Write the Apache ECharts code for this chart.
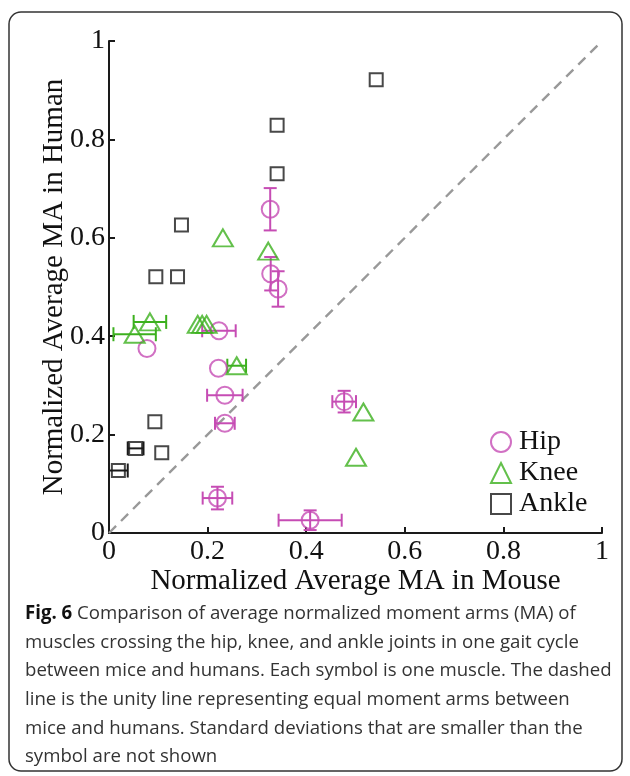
<!DOCTYPE html>
<html>
<head>
<meta charset="utf-8">
<script src="https://cdn.jsdelivr.net/npm/echarts@6/dist/echarts.min.js"></script>
<style>html,body{margin:0;padding:0;background:#fff;}#c{width:630px;height:776px;}</style>
</head>
<body>
<div id="c"></div>
<script>
// ---- data ----
const hipX    = [0.327, 0.328, 0.343, 0.223, 0.077, 0.222, 0.235, 0.235, 0.477, 0.220, 0.408];
const hipY    = [0.658, 0.527, 0.496, 0.411, 0.375, 0.335, 0.280, 0.223, 0.267, 0.071, 0.026];
const hipXErr = [0, 0, 0, 0.034, 0, 0, 0.036, 0.020, 0.024, 0.030, 0.064];
const hipYErr = [0.043, 0.034, 0.036, 0, 0, 0, 0, 0, 0.022, 0.023, 0.020];

const kneeX    = [0.231, 0.323, 0.052, 0.083, 0.180, 0.189, 0.198, 0.259, 0.516, 0.501];
const kneeY    = [0.600, 0.573, 0.404, 0.429, 0.424, 0.424, 0.424, 0.340, 0.246, 0.154];
const kneeXErr = [0, 0, 0.043, 0.033, 0, 0, 0, 0.019, 0, 0];
const kneeYErr = [0, 0, 0, 0, 0, 0, 0, 0, 0, 0];

const ankleX    = [0.542, 0.341, 0.341, 0.147, 0.095, 0.139, 0.093, 0.054, 0.107, 0.019];
const ankleY    = [0.921, 0.829, 0.730, 0.626, 0.521, 0.521, 0.226, 0.172, 0.163, 0.127];
const ankleXErr = [0, 0, 0, 0, 0, 0, 0, 0.016, 0, 0.019];
const ankleYErr = [0, 0, 0, 0, 0, 0, 0, 0, 0, 0];

const unityLine = [[0, 0], [1, 1]];
const seriesNames = ['Hip', 'Knee', 'Ankle'];

const captionLines = [
  '{b|Fig. 6} Comparison of average normalized moment arms (MA) of',
  'muscles crossing the hip, knee, and ankle joints in one gait cycle',
  'between mice and humans. Each symbol is one muscle. The dashed',
  'line is the unity line representing equal moment arms between',
  'mice and humans. Standard deviations that are smaller than the',
  'symbol are not shown'
];

// ---- styles ----
const HIP = '#c64cb4', KNEE = '#3cb01e', ANKLE = '#1a1a1a';
const SERIF = '"Liberation Serif", "DejaVu Serif", serif';
const SANS = '"Open Sans", "Noto Sans", sans-serif';

function rows(xs, ys, xe, ye) { return xs.map((x, i) => [x, ys[i], xe[i], ye[i]]); }

function errRender(color, cap) {
  return function (params, api) {
    const x = api.value(0), y = api.value(1), xe = api.value(2), ye = api.value(3);
    const st = { stroke: color, lineWidth: 2 };
    const ch = [];
    if (xe > 0) {
      const a = api.coord([x - xe, y]), b = api.coord([x + xe, y]);
      ch.push({ type: 'line', shape: { x1: a[0], y1: a[1], x2: b[0], y2: b[1] }, style: st });
      ch.push({ type: 'line', shape: { x1: a[0], y1: a[1] - cap, x2: a[0], y2: a[1] + cap }, style: st });
      ch.push({ type: 'line', shape: { x1: b[0], y1: b[1] - cap, x2: b[0], y2: b[1] + cap }, style: st });
    }
    if (ye > 0) {
      const a = api.coord([x, y - ye]), b = api.coord([x, y + ye]);
      ch.push({ type: 'line', shape: { x1: a[0], y1: a[1], x2: b[0], y2: b[1] }, style: st });
      ch.push({ type: 'line', shape: { x1: a[0] - cap, y1: a[1], x2: a[0] + cap, y2: a[1] }, style: st });
      ch.push({ type: 'line', shape: { x1: b[0] - cap, y1: b[1], x2: b[0] + cap, y2: b[1] }, style: st });
    }
    return { type: 'group', children: ch };
  };
}

const axisCommon = {
  type: 'value', min: 0, max: 1, interval: 0.2,
  axisLine: { show: true, lineStyle: { color: '#1a1a1a', width: 2 } },
  axisTick: { show: true, inside: true, length: 6, lineStyle: { color: '#1a1a1a', width: 2 } },
  splitLine: { show: false },
  nameLocation: 'middle',
  nameMoveOverlap: false,
  nameTextStyle: { fontFamily: SERIF, fontSize: 29, color: '#111' },
  axisLabel: { fontFamily: SERIF, fontSize: 28, color: '#111' }
};

const chart = echarts.init(document.getElementById('c'), null, { renderer: 'canvas' });

const graphics = [
  { type: 'rect', shape: { x: 9, y: 12, width: 613, height: 759, r: 12 },
    style: { fill: 'none', stroke: '#333', lineWidth: 1.5 }, z: 0 }
];
captionLines.forEach((t, i) => {
  graphics.push({
    type: 'text', x: 25, y: 604 + i * 28.7, scaleX: 0.98, z: 10,
    style: {
      text: t, fontFamily: SANS, fontSize: 19, fill: '#333',
      rich: { b: { fontFamily: SANS, fontSize: 19, fontWeight: 'bold', fill: '#111' } }
    }
  });
});

chart.setOption({
  animation: false,
  backgroundColor: '#fff',
  grid: { left: 109, right: 28, top: 41, bottom: 243, containLabel: false },
  xAxis: Object.assign({}, axisCommon, {
    name: 'Normalized Average MA in Mouse', nameGap: 34,
    axisLabel: Object.assign({}, axisCommon.axisLabel, { margin: 5 })
  }),
  yAxis: Object.assign({}, axisCommon, {
    name: 'Normalized Average MA in Human', nameGap: 40,
    axisLabel: Object.assign({}, axisCommon.axisLabel, { margin: 4 })
  }),
  legend: {
    data: seriesNames, orient: 'vertical', left: 485, top: 423,
    itemWidth: 20, itemHeight: 20, itemGap: 3,
    textStyle: { fontFamily: SERIF, fontSize: 28, color: '#111', padding: [0, 0, 0, 3] }
  },
  graphic: graphics,
  series: [
    { type: 'line', data: unityLine, symbol: 'none', silent: true,
      lineStyle: { color: '#999', width: 2.4, type: [10, 7] }, z: 1 },
    { type: 'custom', renderItem: errRender(HIP, 6.5), data: rows(hipX, hipY, hipXErr, hipYErr),
      encode: { x: 0, y: 1 }, clip: false, z: 2, silent: true },
    { type: 'custom', renderItem: errRender(KNEE, 7), data: rows(kneeX, kneeY, kneeXErr, kneeYErr),
      encode: { x: 0, y: 1 }, clip: false, z: 2, silent: true },
    { type: 'custom', renderItem: errRender(ANKLE, 7), data: rows(ankleX, ankleY, ankleXErr, ankleYErr),
      encode: { x: 0, y: 1 }, clip: false, z: 2, silent: true },
    { name: 'Hip', type: 'scatter', symbol: 'circle', symbolSize: 17,
      data: hipX.map((x, i) => [x, hipY[i]]),
      itemStyle: { color: 'rgba(255,255,255,0)', borderColor: HIP, borderWidth: 2 }, z: 3 },
    { name: 'Knee', type: 'scatter', symbol: 'triangle', symbolSize: [20, 17],
      data: kneeX.map((x, i) => [x, kneeY[i]]),
      itemStyle: { color: 'rgba(255,255,255,0)', borderColor: KNEE, borderWidth: 2 }, z: 3 },
    { name: 'Ankle', type: 'scatter', symbol: 'rect', symbolSize: 13,
      data: ankleX.map((x, i) => [x, ankleY[i]]),
      itemStyle: { color: 'rgba(255,255,255,0)', borderColor: ANKLE, borderWidth: 2 }, z: 3 }
  ]
});
</script>
</body>
</html>
